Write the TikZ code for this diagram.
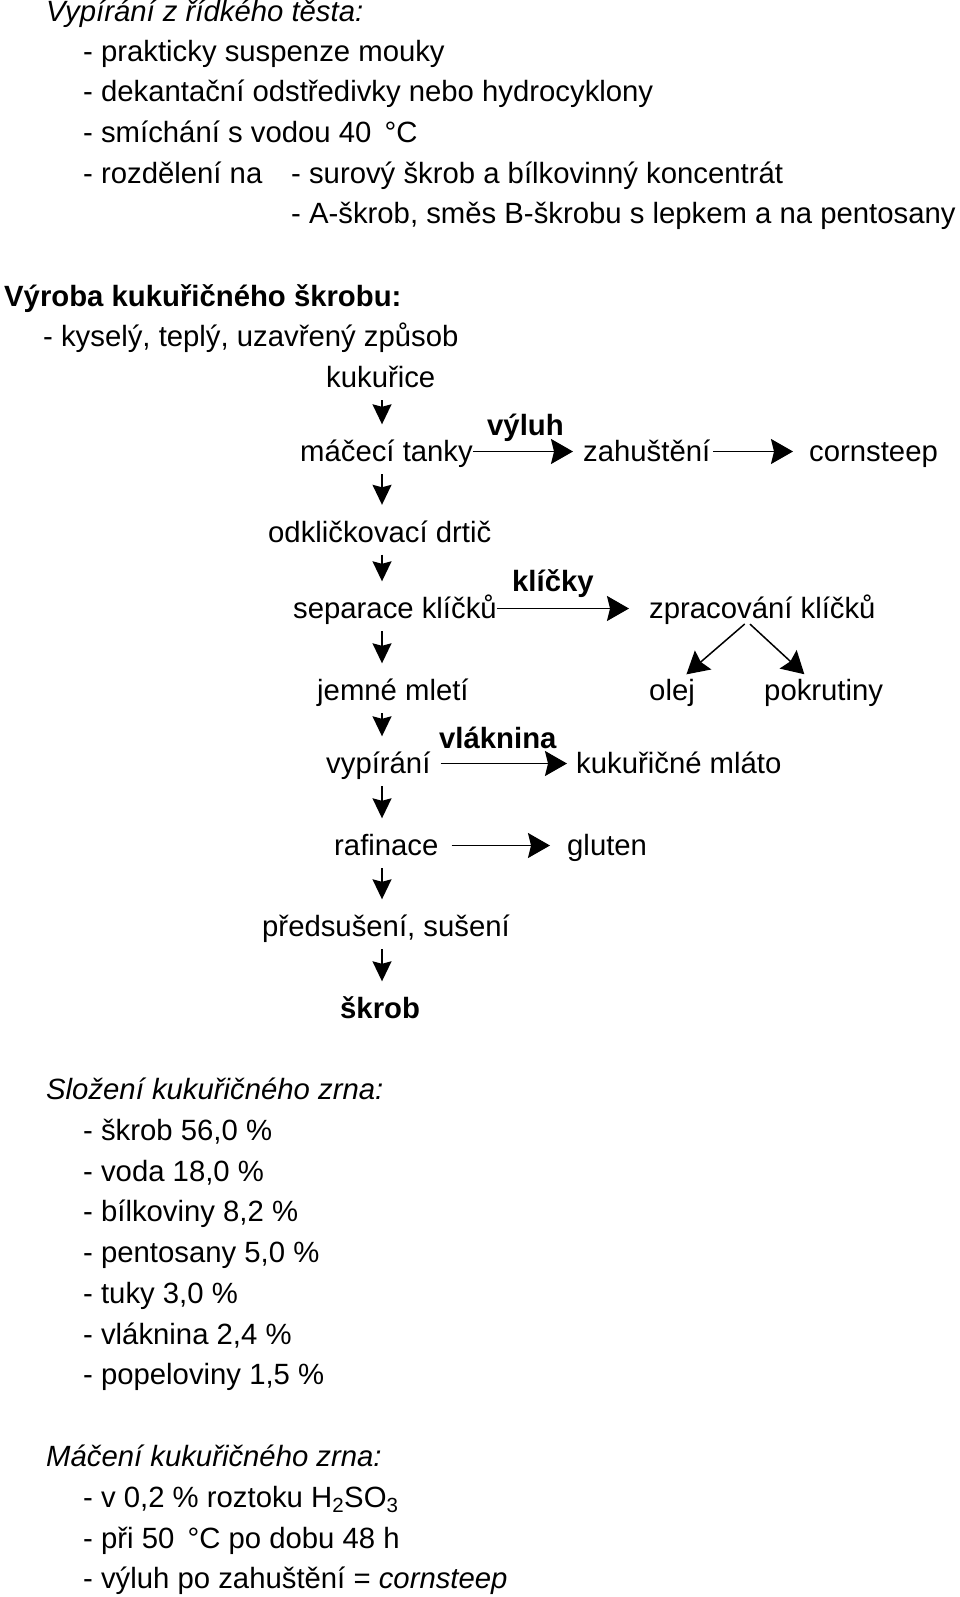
\documentclass[tikz,border=0pt]{standalone}
\usepackage{fontspec}
\setmainfont{Liberation Sans}
\usetikzlibrary{arrows.meta}

\begin{document}
\begin{tikzpicture}[x=1pt,y=-1pt,
        txt/.style={anchor=base west,inner sep=0pt,text height=23pt,text depth=3pt,font=\fontsize{29.3}{35}\selectfont},
        lbl/.style={txt,font=\fontsize{29.3}{35}\selectfont\bfseries},
        down/.style={line width=1.5pt,-{Stealth[length=20pt,width=19pt,inset=2.5pt]},shorten <=9.5pt,shorten >=14pt},
        flow/.style={line width=1.5pt,-{Stealth[length=22pt,width=25pt,inset=3pt]}}]

        \useasboundingbox (0,0) rectangle (960,1597);

        % vypirani z ridkeho testa
        \node[txt] (vyp0) at (46,21.5) {\textit{Vypírání z řídkého těsta:}};
        \node[txt] (vyp1) at (83,61.5) {- prakticky suspenze mouky};
        \node[txt] (vyp2) at (83,102) {- dekantační odstředivky nebo hydrocyklony};
        \node[txt] (vyp3) at (83,143) {- smíchání s vodou 40\hspace{0.45em}°C};
        \node[txt] (vyp4) at (83,183.6) {- rozdělení na};
        \node[txt] (vyp5) at (291,183.6) {- surový škrob a bílkovinný koncentrát};
        \node[txt] (vyp6) at (291,224) {- A-škrob, směs B-škrobu s lepkem a na pentosany};

        % vyroba
        \node[lbl] (vyr0) at (4,306) {Výroba kukuřičného škrobu:};
        \node[txt] (vyr1) at (43,346.5) {- kyselý, teplý, uzavřený způsob};

        \coordinate (col) at (382,0);

        \node[txt] (kukurice) at (326,387.5) {kukuřice};
        \node[txt] (tanky) at (300,461.5) {máčecí tanky};
        \node[txt] (zahusteni) at (583,461.5) {zahuštění};
        \node[txt] (cornsteep) at (809,461.5) {cornsteep};
        \node[lbl] (vyluh) at (487,435) {výluh};
        \node[txt] (drtic) at (268,542) {odkličkovací drtič};
        \node[txt] (separace) at (293,618.5) {separace klíčků};
        \node[txt] (zpracovani) at (649,618.5) {zpracování klíčků};
        \node[lbl] (klicky) at (512,591.5) {klíčky};
        \node[txt] (olej) at (649,700.5) {olej};
        \node[txt] (pokrutiny) at (764,700.5) {pokrutiny};
        \node[txt] (mleti) at (317,700.5) {jemné mletí};
        \node[txt] (vypirani) at (326,773.5) {vypírání};
        \node[txt] (mlato) at (576,773.5) {kukuřičné mláto};
        \node[lbl] (vlaknina) at (439,748) {vláknina};
        \node[txt] (rafinace) at (334,855.5) {rafinace};
        \node[txt] (gluten) at (567,855.5) {gluten};
        \node[txt] (suseni) at (262,936.5) {předsušení, sušení};
        \node[lbl] (skrob) at (340,1018.5) {škrob};

        \draw[down] (kukurice.south -| col) -- (tanky.north -| col);
        \draw[down] (tanky.south -| col) -- (drtic.north -| col);
        \draw[down] (drtic.south -| col) -- (separace.north -| col);
        \draw[down] (separace.south -| col) -- (mleti.north -| col);
        \draw[down] (mleti.south -| col) -- (vypirani.north -| col);
        \draw[down] (vypirani.south -| col) -- (rafinace.north -| col);
        \draw[down] (rafinace.south -| col) -- (suseni.north -| col);
        \draw[down] (suseni.south -| col) -- (skrob.north -| col);

        \draw[flow,shorten >=10pt] (tanky.east) -- (zahusteni.west);
        \draw[flow,shorten <=3pt,shorten >=16pt] (zahusteni.east) -- (cornsteep.west);
        \draw[flow,shorten >=20pt] (separace.east) -- (zpracovani.west);
        \draw[flow,shorten <=10pt,shorten >=9pt] (vypirani.east) -- (mlato.west);
        \draw[flow,shorten <=13pt,shorten >=17pt] (rafinace.east) -- (gluten.west);

        \draw[flow,shorten <=3.5pt,shorten >=4.5pt] ([xshift=-15pt]zpracovani.south) -- ([xshift=11pt]olej.north);
        \draw[flow,shorten <=3.5pt,shorten >=4.5pt] ([xshift=-15pt]zpracovani.south) -- ([xshift=-16pt]pokrutiny.north);

        % slozeni
        \node[txt] (slo0) at (46,1099.5) {\textit{Složení kukuřičného zrna:}};
        \node[txt] (slo1) at (83,1140.5) {- škrob 56,0 \%};
        \node[txt] (slo2) at (83,1181.2) {- voda 18,0 \%};
        \node[txt] (slo3) at (83,1221.9) {- bílkoviny 8,2 \%};
        \node[txt] (slo4) at (83,1262.6) {- pentosany 5,0 \%};
        \node[txt] (slo5) at (83,1303.3) {- tuky 3,0 \%};
        \node[txt] (slo6) at (83,1344) {- vláknina 2,4 \%};
        \node[txt] (slo7) at (83,1384.7) {- popeloviny 1,5 \%};

        % maceni
        \node[txt] (mac0) at (46,1466.5) {\textit{Máčení kukuřičného zrna:}};
        \node[txt] (mac1) at (83,1507) {- v 0,2 \% roztoku H\textsubscript{2}SO\textsubscript{3}};
        \node[txt] (mac2) at (83,1548) {- při 50\hspace{0.45em}°C po dobu 48 h};
        \node[txt] (mac3) at (83,1588.5) {- výluh po zahuštění = \textit{cornsteep}};

\end{tikzpicture}
\end{document}
